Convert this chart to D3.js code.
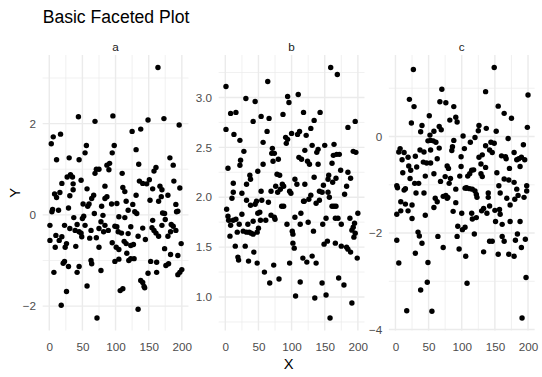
<!DOCTYPE html>
<html><head><meta charset="utf-8">
<script src="https://cdn.jsdelivr.net/npm/d3@7"></script>
<style>body{margin:0;background:#fff} svg{display:block} text{font-family:"Liberation Sans",Arial,sans-serif}</style>
</head><body><svg id="chart" width="542" height="377"></svg>
<script>
const facets = ["a", "b", "c"];
const titleText = "Basic Faceted Plot";
const xLabel = "X", yLabel = "Y";

const xa = [164,44,69,96,149,173,196,125,138,17,6,3,56,98,54,95,131,11,30,45,182,187,135,91,87,71,75,69,90,110,158,161,27,32,35,19,36,48,57,84,111,136,141,147,151,156,167,188,197,8,11,16,31,36,67,64,60,58,51,29,14,5,4,87,84,94,102,79,68,81,114,116,126,119,129,132,131,152,170,165,169,179,171,174,191,192,194,37,50,52,105,114,1,23,42,54,31,39,48,45,49,63,75,84,78,82,89,99,102,104,109,123,119,141,156,155,158,161,165,170,175,184,187,183,191,1,10,19,15,9,24,26,40,61,71,75,95,101,105,113,116,123,127,117,134,145,174,179,183,194,199,23,21,29,45,42,7,63,64,78,99,105,120,123,128,153,162,176,180,149,162,194,197,200,57,26,107,111,138,141,143,144,18,134,72];
const ya = [3.23,2.15,2.05,2.17,2.08,2.11,1.97,1.83,1.88,1.77,1.71,1.56,1.52,1.52,1.36,1.36,1.43,1.21,1.25,1.21,1.25,1.09,1.11,1.13,1.09,1.00,1.00,0.91,0.99,0.91,0.96,1.04,0.83,0.88,0.83,0.69,0.68,0.76,0.57,0.63,0.60,0.74,0.69,0.68,0.77,0.57,0.63,0.74,0.59,0.46,0.38,0.49,0.42,0.55,0.43,0.36,0.24,0.19,0.24,0.15,0.10,0.12,0.07,0.40,0.36,0.24,0.25,0.19,0.03,-0.01,0.51,0.30,0.23,0.10,0.07,0.03,0.43,0.32,0.55,0.30,0.40,0.43,0.04,0.03,0.23,0.07,0.08,-0.06,-0.08,-0.03,-0.04,-0.06,-0.23,-0.23,-0.21,-0.23,-0.30,-0.34,-0.40,-0.37,-0.48,-0.34,-0.30,-0.23,-0.15,-0.37,-0.34,-0.25,-0.26,-0.37,-0.40,-0.26,-0.41,-0.29,-0.12,-0.28,-0.34,-0.40,-0.47,-0.23,-0.10,-0.21,-0.25,-0.37,-0.34,-0.56,-0.45,-0.48,-0.56,-0.71,-0.71,-0.63,-0.69,-0.51,-0.50,-0.71,-0.61,-0.71,-0.76,-0.58,-0.63,-0.67,-0.65,-0.84,-0.47,-0.54,-0.74,-0.47,-0.87,-0.89,-0.63,-1.02,-1.06,-1.13,-1.13,-1.26,-1.26,-1.00,-1.07,-1.22,-1.02,-0.97,-1.00,-0.96,-0.96,-1.02,-1.04,-1.11,-1.07,-1.28,-1.26,-1.31,-1.26,-1.20,-1.56,-1.68,-1.66,-1.62,-1.44,-1.48,-1.57,-1.60,-1.98,-2.07,-2.26];

const xb = [159,169,1,64,31,45,94,96,110,8,16,54,66,42,87,118,143,134,196,185,1,13,63,100,112,109,129,122,91,92,94,22,57,131,150,164,28,71,70,74,120,140,138,163,168,172,193,197,111,115,23,22,80,72,57,124,127,140,161,4,49,78,82,105,134,156,155,174,185,189,37,38,12,32,76,86,88,108,120,148,162,167,183,12,10,25,32,38,45,47,54,55,65,69,79,83,97,99,126,129,119,142,146,137,142,155,157,161,164,167,180,2,4,5,8,12,16,7,18,25,21,27,32,36,39,34,42,50,53,49,52,42,48,61,69,74,75,85,88,93,101,102,105,114,118,113,125,133,147,152,166,170,175,188,193,191,195,200,196,194,15,30,19,20,35,43,48,59,67,73,81,97,102,104,106,113,117,123,131,137,135,146,149,154,152,158,166,171,175,179,183,185,189,191,199];
const yb = [3.30,3.23,3.11,3.16,2.99,2.96,3.01,2.95,3.03,2.84,2.85,2.81,2.79,2.76,2.83,2.85,2.85,2.77,2.76,2.70,2.68,2.63,2.66,2.64,2.66,2.63,2.69,2.62,2.60,2.54,2.58,2.57,2.55,2.52,2.52,2.53,2.46,2.49,2.44,2.44,2.47,2.48,2.45,2.42,2.43,2.43,2.46,2.45,2.40,2.38,2.37,2.32,2.38,2.36,2.33,2.36,2.33,2.33,2.34,2.29,2.26,2.23,2.22,2.18,2.20,2.22,2.18,2.27,2.25,2.19,2.22,2.18,2.14,2.13,2.11,2.13,2.11,2.13,2.13,2.12,2.15,2.19,2.11,2.05,1.99,2.04,1.97,1.92,1.93,1.96,2.06,1.97,1.95,2.06,2.05,2.08,2.06,2.04,1.98,2.02,1.96,2.06,2.05,1.94,1.97,2.05,2.00,1.91,1.91,1.91,2.03,1.88,1.81,1.77,1.72,1.77,1.78,1.61,1.65,1.83,1.73,1.66,1.65,1.65,1.64,1.73,1.76,1.69,1.77,1.84,1.85,1.63,1.65,1.77,1.82,1.80,1.78,1.91,1.91,1.73,1.66,1.63,1.80,1.84,1.96,1.73,1.75,1.66,1.73,1.79,1.79,1.79,1.73,1.79,1.70,1.67,1.74,1.84,1.64,1.60,1.51,1.51,1.40,1.37,1.36,1.45,1.34,1.25,1.14,1.32,1.18,1.34,1.54,1.49,1.01,1.15,1.39,1.35,1.41,1.34,0.99,1.14,1.53,1.56,1.02,0.79,1.54,1.19,1.51,1.12,1.50,1.48,1.45,0.94,1.39];

const xc = [27,149,70,136,21,28,67,76,88,200,155,164,175,51,91,93,82,24,40,38,66,69,58,52,126,125,137,152,199,102,120,170,49,53,57,61,88,113,144,149,136,193,7,5,13,37,43,53,66,86,85,104,126,131,142,146,160,166,167,179,183,186,190,195,19,10,30,63,42,47,53,99,20,32,78,80,99,129,136,118,153,172,188,11,23,45,58,22,68,75,83,97,109,112,115,129,131,164,171,179,29,35,2,81,107,156,198,3,13,15,72,76,78,79,60,63,58,91,105,108,112,116,120,122,123,140,140,158,183,185,180,194,198,168,8,15,25,2,8,19,25,31,43,45,91,87,100,115,116,122,130,133,138,142,150,157,158,151,161,173,173,188,94,101,105,34,36,2,40,64,72,93,96,106,119,133,142,146,161,164,155,171,179,181,184,196,190,30,5,49,48,38,108,197,17,55,191];
const yc = [1.39,1.43,0.98,0.93,0.77,0.62,0.72,0.70,0.62,0.86,0.63,0.48,0.38,0.43,0.40,0.30,0.34,0.28,0.23,0.10,0.21,0.14,0.11,0.03,0.23,0.12,0.17,0.11,0.19,0.01,-0.02,-0.04,-0.09,-0.08,-0.09,-0.12,-0.08,-0.12,-0.12,-0.14,-0.19,-0.17,-0.25,-0.32,-0.33,-0.28,-0.32,-0.28,-0.24,-0.21,-0.29,-0.25,-0.43,-0.38,-0.28,-0.33,-0.40,-0.42,-0.46,-0.33,-0.48,-0.46,-0.43,-0.48,-0.43,-0.48,-0.41,-0.46,-0.53,-0.55,-0.55,-0.42,-0.61,-0.63,-0.61,-0.66,-0.62,-0.57,-0.64,-0.69,-0.75,-0.66,-0.62,-0.75,-0.70,-0.82,-0.77,-0.87,-0.93,-0.83,-0.87,-0.82,-0.82,-0.77,-0.70,-0.77,-0.83,-0.88,-0.90,-0.95,-0.97,-0.97,-1.02,-0.97,-1.06,-1.02,-1.02,-1.06,-1.11,-1.08,-1.24,-1.22,-1.28,-1.26,-1.28,-1.35,-1.47,-1.09,-1.07,-1.07,-1.08,-1.09,-1.13,-1.20,-1.26,-1.17,-1.26,-1.17,-1.09,-1.22,-1.30,-1.26,-1.13,-1.28,-1.35,-1.40,-1.42,-1.61,-1.54,-1.54,-1.70,-1.17,-1.17,-1.63,-1.37,-1.55,-1.59,-1.59,-1.71,-1.68,-1.54,-1.49,-1.59,-1.44,-1.53,-1.51,-1.61,-1.76,-1.82,-1.42,-1.76,-1.76,-1.86,-1.93,-1.88,-1.98,-2.06,-2.15,-2.21,-2.07,-2.30,-2.07,-2.33,-2.48,-2.02,-2.39,-2.17,-2.17,-2.07,-2.17,-2.44,-2.44,-2.48,-2.15,-2.02,-2.13,-2.30,-2.42,-2.62,-2.61,-3.02,-3.18,-3.04,-2.92,-3.61,-3.62,-3.76];

const xTicks = [0, 50, 100, 150, 200];
const xMinor = [25, 75, 125, 175];
const yTicksA = [-2, 0, 2];
const yTicksB = [1.0, 1.5, 2.0, 2.5, 3.0];
const yTicksC = [-4, -2, 0];
const yMinorA = [-1, 1, 3];
const yMinorB = [0.75, 1.25, 1.75, 2.25, 2.75, 3.25];
const yMinorC = [-3, -1, 1];

const panels = [
  {name: facets[0], xs: xa, ys: ya, ticks: yTicksA, minor: yMinorA, fmt: d3.format("d")},
  {name: facets[1], xs: xb, ys: yb, ticks: yTicksB, minor: yMinorB, fmt: d3.format(".1f")},
  {name: facets[2], xs: xc, ys: yc, ticks: yTicksC, minor: yMinorC, fmt: d3.format("d")}
];

const svg = d3.select("#chart");
svg.append("rect").attr("width", 542).attr("height", 377).attr("fill", "#fff");

const panelLeft = [42.65, 218.7, 388.85];
const panelW = 145.8;
const pTop = 55, pBottom = 330.5;
const grid = "#EBEBEB";
const axisCol = "#4D4D4D";
const FONT = '"Liberation Sans", Arial, sans-serif';

panels.forEach((p, i) => {
  const x = d3.scaleLinear().domain([-10, 210]).range([panelLeft[i], panelLeft[i] + panelW]);
  const [mn, mx] = d3.extent(p.ys);
  const pad = (mx - mn) * 0.05;
  const y = d3.scaleLinear().domain([mn - pad, mx + pad]).range([pBottom, pTop]);
  const g = svg.append("g");
  const inY = v => v >= y.domain()[0] && v <= y.domain()[1];

  g.selectAll(".mx").data(xMinor).join("line")
    .attr("x1", d => x(d)).attr("x2", d => x(d)).attr("y1", pTop).attr("y2", pBottom)
    .attr("stroke", grid).attr("stroke-width", 0.71);
  g.selectAll(".my").data(p.minor.filter(inY)).join("line")
    .attr("x1", panelLeft[i]).attr("x2", panelLeft[i] + panelW).attr("y1", d => y(d)).attr("y2", d => y(d))
    .attr("stroke", grid).attr("stroke-width", 0.71);
  g.selectAll(".Mx").data(xTicks).join("line")
    .attr("x1", d => x(d)).attr("x2", d => x(d)).attr("y1", pTop).attr("y2", pBottom)
    .attr("stroke", grid).attr("stroke-width", 1.42);
  g.selectAll(".My").data(p.ticks.filter(inY)).join("line")
    .attr("x1", panelLeft[i]).attr("x2", panelLeft[i] + panelW).attr("y1", d => y(d)).attr("y2", d => y(d))
    .attr("stroke", grid).attr("stroke-width", 1.42);

  const yAxis = d3.axisLeft(y).tickValues(p.ticks.filter(inY)).tickFormat(p.fmt).tickSize(0).tickPadding(6.6);
  const yg = svg.append("g").attr("transform", `translate(${panelLeft[i]},0)`).call(yAxis);
  yg.select(".domain").remove();
  yg.selectAll("text").attr("fill", axisCol).style("font-size", "11.7px").style("font-family", FONT);

  const xAxis = d3.axisBottom(x).tickValues(xTicks).tickFormat(d3.format("d")).tickSize(0).tickPadding(0);
  const xg = svg.append("g").attr("transform", `translate(0,${pBottom})`).call(xAxis);
  xg.select(".domain").remove();
  xg.selectAll("text").attr("fill", axisCol).attr("dy", null).attr("y", 20.5)
    .style("font-size", "11.7px").style("font-family", FONT);

  svg.append("text").attr("x", panelLeft[i] + panelW / 2).attr("y", 50.5)
    .attr("text-anchor", "middle").attr("fill", "#1A1A1A").style("font-size", "11.7px").text(p.name);

  g.selectAll("circle").data(p.xs.map((xv, k) => [xv, p.ys[k]])).join("circle")
    .attr("cx", d => x(d[0])).attr("cy", d => y(d[1])).attr("r", 2.7).attr("fill", "#000");
});

svg.append("text").attr("x", 42.65).attr("y", 22.6).attr("fill", "#000")
  .style("font-size", "17.6px").text(titleText);
svg.append("text").attr("x", (panelLeft[0] + panelLeft[2] + panelW) / 2).attr("y", 368.6)
  .attr("text-anchor", "middle").attr("fill", "#000").style("font-size", "14.7px").text(xLabel);
svg.append("text").attr("transform", `translate(19.5,${(pTop + pBottom) / 2}) rotate(-90)`)
  .attr("text-anchor", "middle").attr("fill", "#000").style("font-size", "14.7px").text(yLabel);
</script></body></html>
